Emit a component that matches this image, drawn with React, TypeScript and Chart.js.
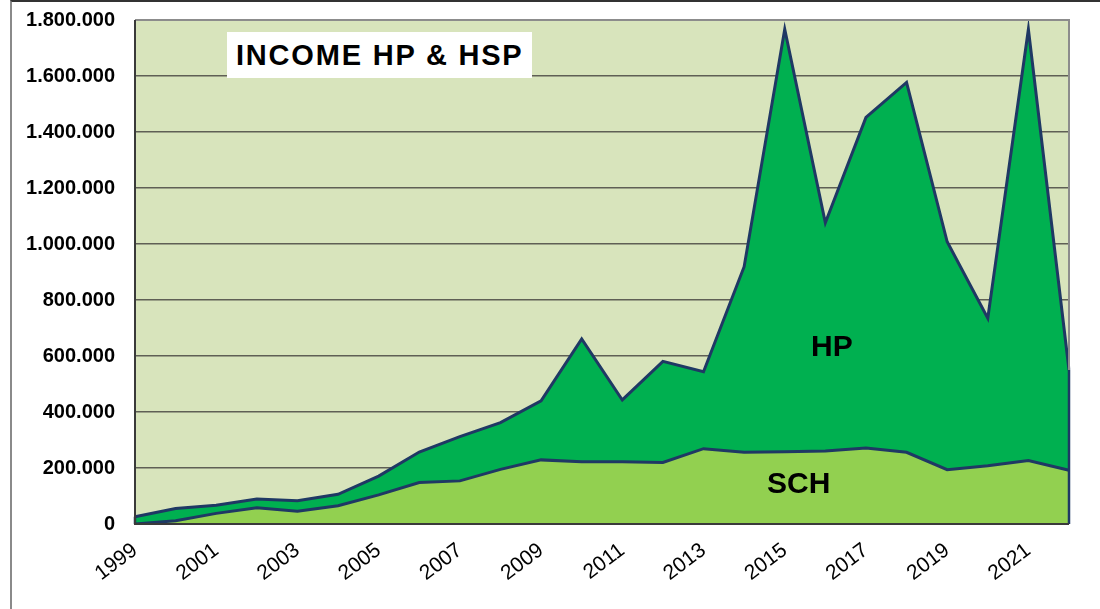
import React, { useEffect, useRef } from 'react';
import { Chart, registerables } from 'chart.js';

Chart.register(...registerables);

const years = ['1999','2000','2001','2002','2003','2004','2005','2006','2007','2008','2009','2010','2011','2012','2013','2014','2015','2016','2017','2018','2019','2020','2021','2022'];
const schValues = [0, 12000, 38000, 58000, 46000, 65000, 104000, 148000, 154000, 195000, 229000, 222000, 222000, 220000, 269000, 256000, 258000, 261000, 271000, 256000, 194000, 208000, 227000, 192000];
const hpValues = [26000, 43000, 29000, 31000, 37000, 41000, 67000, 109000, 158000, 167000, 211000, 439000, 221000, 361000, 275000, 663000, 1509000, 815000, 1181000, 1321000, 814000, 527000, 1540000, 358000];
const yTicksMax = 1800000;
const yTickStep = 200000;

const FONT = 'Arial, "Liberation Sans", sans-serif';
const LINE = '#1f3864';

const fmt = (v: number) => String(Math.round(v)).replace(/\B(?=(\d{3})+(?!\d))/g, '.');

const framePlugin = {
  id: 'frame',
  beforeDraw(chart: any) {
    const { ctx, chartArea: a } = chart;
    ctx.save();
    ctx.fillStyle = '#d8e4bc';
    ctx.fillRect(a.left, a.top, a.right - a.left, a.bottom - a.top);
    ctx.restore();
  },
  afterDatasetsDraw(chart: any) {
    const { ctx, chartArea: a, scales } = chart;
    const y = scales.y;
    const x = scales.x;
    const n = years.length - 1;
    const topLast = y.getPixelForValue(schValues[n] + hpValues[n]);
    const topFirst = y.getPixelForValue(schValues[0] + hpValues[0]);
    ctx.save();
    ctx.strokeStyle = '#8c8c8c';
    ctx.lineWidth = 2;
    ctx.beginPath();
    ctx.moveTo(a.left, a.top);
    ctx.lineTo(a.right, a.top);
    ctx.lineTo(a.right, topLast);
    ctx.stroke();
    ctx.strokeStyle = LINE;
    ctx.lineWidth = 2.5;
    ctx.beginPath();
    ctx.moveTo(x.getPixelForValue(n), topLast);
    ctx.lineTo(x.getPixelForValue(n), a.bottom);
    ctx.moveTo(x.getPixelForValue(0), topFirst);
    ctx.lineTo(x.getPixelForValue(0), a.bottom);
    ctx.stroke();
    ctx.strokeStyle = '#3a3a3a';
    ctx.lineWidth = 2;
    ctx.beginPath();
    ctx.moveTo(a.left, a.top);
    ctx.lineTo(a.left, a.bottom);
    ctx.lineTo(a.right, a.bottom);
    ctx.stroke();
    ctx.restore();
  },
};

export default function App() {
  const ref = useRef<HTMLCanvasElement | null>(null);

  useEffect(() => {
    if (!ref.current) return;
    const chart = new Chart(ref.current, {
      type: 'line',
      data: {
        labels: years,
        datasets: [
          {
            label: 'SCH',
            data: schValues,
            backgroundColor: '#92d050',
            borderColor: LINE,
            borderWidth: 3,
            pointRadius: 0,
            fill: 'origin',
            tension: 0,
          },
          {
            label: 'HP',
            data: hpValues,
            backgroundColor: '#00b050',
            borderColor: LINE,
            borderWidth: 3,
            pointRadius: 0,
            fill: '-1',
            tension: 0,
          },
        ],
      },
      options: {
        responsive: false,
        animation: false,
        layout: { padding: { top: 20, right: 31, left: 0, bottom: 0 } },
        plugins: {
          legend: { display: false },
          tooltip: { enabled: false },
          title: { display: false },
        },
        scales: {
          x: {
            offset: false,
            grid: { display: false, drawTicks: false },
            border: { display: false },
            afterFit: (s: any) => { s.height = 85; },
            ticks: {
              autoSkip: false,
              maxRotation: 37,
              minRotation: 37,
              padding: 14,
              color: '#000',
              font: { family: FONT, size: 21 },
              callback: (_v: any, i: number) => (i % 2 === 0 ? years[i] : ''),
            },
          },
          y: {
            stacked: true,
            min: 0,
            max: yTicksMax,
            grid: { color: '#5f5f55', lineWidth: 1.5, drawTicks: false },
            border: { display: false },
            afterFit: (s: any) => { s.width = 135; s.paddingTop = 0; s.paddingBottom = 0; },
            ticks: {
              stepSize: yTickStep,
              padding: 20,
              color: '#000',
              font: { family: FONT, size: 20, weight: 'bold' },
              callback: (v: any) => fmt(Number(v)),
            },
          },
        },
      },
      plugins: [framePlugin],
    });
    return () => chart.destroy();
  }, []);

  return (
    <div style={{ position: 'absolute', left: 0, top: 0, width: 1100, height: 609, background: '#fff', overflow: 'hidden' }}>
      <div style={{ position: 'absolute', left: 10, top: 0, width: 1200, height: 700, borderLeft: '2px solid #8a8a8a', borderTop: '2px solid #333' }} />
      <canvas ref={ref} width={1100} height={609} style={{ position: 'absolute', left: 0, top: 0 }} />
      <div style={{ position: 'absolute', left: 227, top: 32, width: 305, height: 46, background: '#fff', fontFamily: FONT, fontWeight: 'bold', fontSize: 29, lineHeight: '46px', letterSpacing: '1.8px', paddingLeft: 9, boxSizing: 'border-box', color: '#000', whiteSpace: 'nowrap' }}>
        INCOME HP &amp; HSP
      </div>
      <div style={{ position: 'absolute', left: 811, top: 331, fontFamily: FONT, fontWeight: 'bold', fontSize: 30, lineHeight: '30px', color: '#000' }}>HP</div>
      <div style={{ position: 'absolute', left: 767, top: 468, fontFamily: FONT, fontWeight: 'bold', fontSize: 30, lineHeight: '30px', color: '#000' }}>SCH</div>
    </div>
  );
}
